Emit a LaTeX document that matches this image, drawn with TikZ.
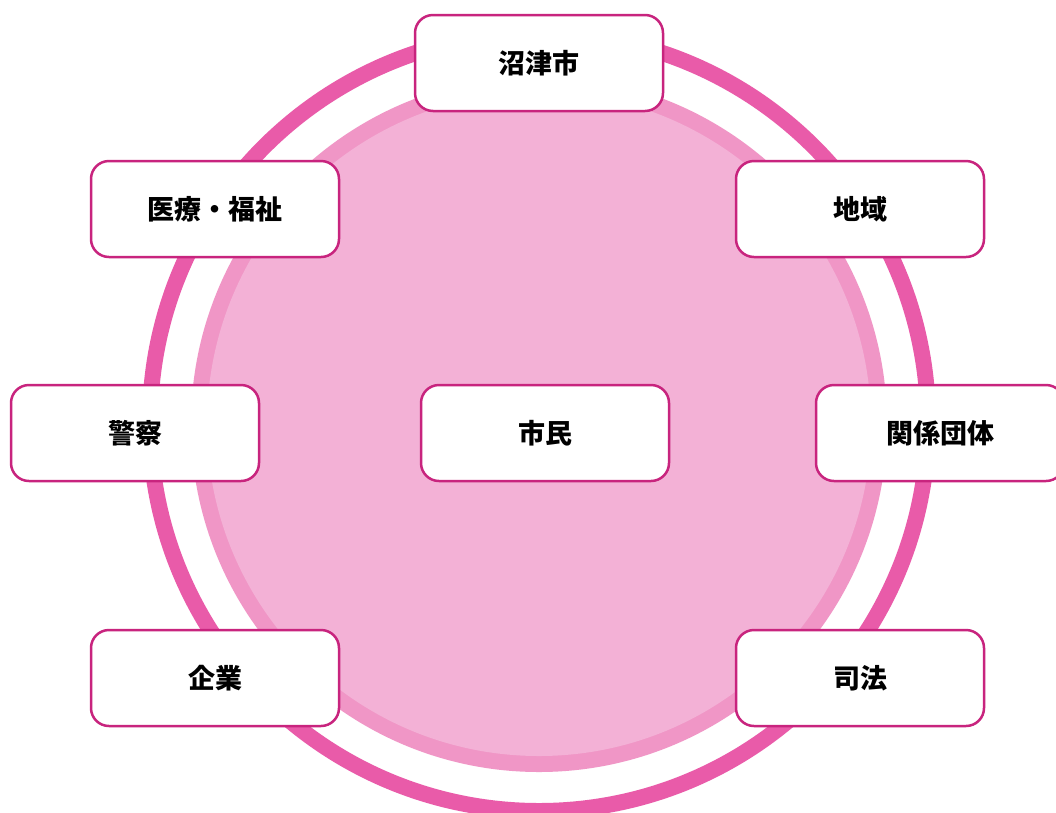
\documentclass[tikz,border=0pt]{standalone}
\usepackage{fontspec}
\newfontfamily\cjk{Noto Sans CJK JP}
\definecolor{ringpink}{HTML}{E95BA9}
\definecolor{midpink}{HTML}{F096C6}
\definecolor{lightpink}{HTML}{F3B1D6}
\definecolor{boxline}{HTML}{C8247E}
\begin{document}
\begin{tikzpicture}[x=1pt,y=-1pt,
  rolebox/.style={draw=boxline, line width=2.5pt, fill=white, rounded corners=18pt,
    minimum width=248pt, minimum height=96pt, inner sep=0pt,
    font=\cjk\bfseries\fontsize{27}{30}\selectfont, text=black}]
\useasboundingbox (0,0) rectangle (1056,812);
\clip (0,0) rectangle (1056,812);
\fill[white] (0,0) rectangle (1056,812);
\draw[ringpink, line width=16pt] (539,422) circle[radius=389];
\fill[midpink] (539,424) circle[radius=348];
\fill[lightpink] (539,424) circle[radius=332];
\node[rolebox] (numazu) at (539,63) {沼津市};
\node[rolebox] (iryo) at (215,209) {医療・福祉};
\node[rolebox] (chiiki) at (860,209) {地域};
\node[rolebox] (keisatsu) at (135,433) {警察};
\node[rolebox] (shimin) at (545,433) {市民};
\node[rolebox] (kankei) at (940,433) {関係団体};
\node[rolebox] (kigyo) at (215,678) {企業};
\node[rolebox] (shiho) at (860,678) {司法};
\end{tikzpicture}
\end{document}
